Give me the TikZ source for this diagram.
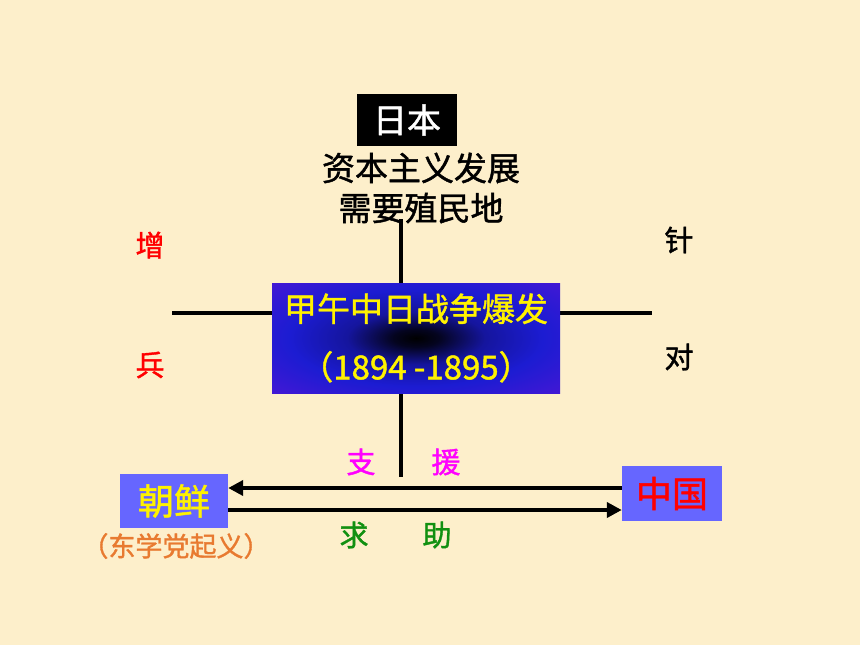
\documentclass[tikz,border=0pt]{standalone}
\usepackage{fontspec}
\setmainfont[FakeBold=1.3]{Noto Sans CJK SC}
\usetikzlibrary{arrows.meta}
\definecolor{paper}{HTML}{FDEFCB}
\definecolor{boxblue}{HTML}{6666FF}
\definecolor{uprisingorange}{HTML}{E87A30}
\definecolor{aidpink}{HTML}{FF00FF}
\definecolor{askgreen}{HTML}{119011}
\definecolor{warblue}{HTML}{1C1CD2}
\definecolor{warpurple}{HTML}{7412D8}
\definecolor{warrim}{HTML}{9C5AB8}
\pgfdeclareradialshading{warglow}{\pgfpoint{0bp}{0bp}}{%
  color(0bp)=(black); color(4bp)=(black!85!warblue);
  color(12bp)=(warblue!75!black); color(22bp)=(warblue);
  color(36bp)=(warblue!55!warpurple); color(44bp)=(warpurple);
  color(50bp)=(warrim)}
\newcommand{\fsz}[1]{\fontsize{#1}{#1}\selectfont}
\tikzset{
  x=1pt, y=-1pt,
  label/.style={inner sep=0pt, align=center},
  countrybox/.style={fill=boxblue, minimum width=100pt, minimum height=55pt,
    inner sep=0pt, font=\fsz{36}},
  bar/.style={line width=4pt},
  flow/.style={line width=4pt, -{Triangle[length=15pt,width=15pt]}}
}
\begin{document}
\begin{tikzpicture}
  \fill[paper] (0,0) rectangle (860,645);
  \useasboundingbox (0,0) rectangle (860,645);

  % Japan and its motive
  \node[fill=black, text=white, minimum width=100pt, minimum height=52pt,
        inner sep=0pt, font=\fsz{34}] (japan) at (407,120) {日本};
  \node[label, font=\fontsize{33}{40}\selectfont] (motive) at (421,188)
    {资本主义发展\\需要殖民地};

  % cross behind the war box
  \coordinate (needtip) at (401,219);
  \coordinate (aidtip) at (401,477);
  \coordinate (lefttip) at (172,313);
  \coordinate (righttip) at (652,313);
  \draw[bar] (needtip) -- (aidtip);
  \draw[bar] (lefttip) -- (righttip);

  \node[shading=warglow, minimum width=288pt, minimum height=110pt,
        inner sep=0pt, text=yellow, align=center,
        font=\fontsize{33}{58}\selectfont] (war) at (416,338)
    {甲午中日战争爆发\\（1894 -1895）};

  \node[label, text=red, font=\fsz{29}] (zeng) at (150,245) {增};
  \node[label, text=red, font=\fsz{29}] (bing) at (150,365) {兵};
  \node[label, font=\fsz{29}] (zhen) at (679,240) {针};
  \node[label, font=\fsz{29}] (dui) at (679,357) {对};

  % Korea and China
  \node[countrybox, minimum width=108pt, minimum height=54pt,
        text=yellow] (korea) at (174,501) {朝鲜};
  \node[label, text=uprisingorange, font=\fsz{27}] (uprising) at (176,546)
    {（东学党起义）};
  \node[countrybox, minimum height=55pt, text=red] (china) at (672,493.5)
    {中国};

  \coordinate (upper) at (0,488);
  \coordinate (lower) at (0,510);
  \draw[flow] (china.west |- upper) -- (korea.east |- upper);
  \draw[flow] (korea.east |- lower) -- (china.west |- lower);

  \node[label, text=aidpink, font=\fsz{29}] (zhi) at (361,462) {支};
  \node[label, text=aidpink, font=\fsz{29}] (yuan) at (446,462) {援};
  \node[label, text=askgreen, font=\fsz{29}] (qiu) at (354,535) {求};
  \node[label, text=askgreen, font=\fsz{29}] (zhu) at (437,535) {助};
\end{tikzpicture}
\end{document}
